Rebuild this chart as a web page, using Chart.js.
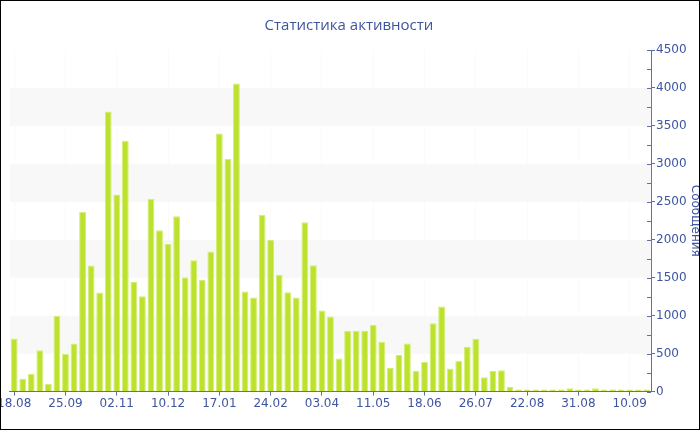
<!DOCTYPE html>
<html>
<head>
<meta charset="utf-8">
<script src="https://cdn.jsdelivr.net/npm/chart.js@4/dist/chart.umd.min.js"></script>
<style>
  html, body { margin: 0; padding: 0; background: #fff; }
  .box { position: relative; width: 700px; height: 430px; border: 1px solid #000; box-sizing: border-box; overflow: hidden; }
  .box canvas { position: absolute; left: -5px; top: -1px; }
</style>
</head>
<body>
<div class="box">
  <canvas id="myChart" width="706" height="430"></canvas>
</div>
<script>
// data
const tickLabels = ['18.08', '25.09', '02.11', '10.12', '17.01', '24.02', '03.04',
  '11.05', '18.06', '26.07', '22.08', '31.08', '10.09'];

const messages = [
  700, 170, 235, 545, 100, 1000, 500, 635, 2370, 1660,
  1305, 3690, 2595, 3305, 1445, 1255, 2540, 2125, 1945, 2310,
  1505, 1730, 1470, 1845, 3400, 3065, 4060, 1320, 1240, 2330,
  2000, 1535, 1310, 1240, 2230, 1665, 1070, 990, 435, 800,
  800, 800, 878, 657, 310, 482, 632, 275, 390, 902,
  1120, 305, 405, 590, 695, 190, 273, 282, 62, 26,
  26, 22, 13, 13, 13, 44, 13, 13, 44, 13,
  22, 13, 22, 13, 18
];

const bandStarts = [500, 1500, 2500, 3500];

const labelEvery = 6;
const categories = messages.map((v, i) => i % labelEvery === 0 ? tickLabels[i / labelEvery] : '');

const axisColor = '#5b6fa9';
const textColor = '#3e55a0';

// bands + inner ticks
const bands = {
  id: 'bands',
  beforeDatasetsDraw(chart) {
    const { ctx, chartArea, scales } = chart;
    ctx.save();
    ctx.fillStyle = '#f8f8f8';
    bandStarts.forEach(start => {
      const top = scales.y.getPixelForValue(start + 500);
      const bottom = scales.y.getPixelForValue(start);
      ctx.fillRect(chartArea.left, top, chartArea.right - chartArea.left, bottom - top);
    });
    ctx.restore();
  },
  afterDraw(chart) {
    const { ctx, scales } = chart;
    const x = scales.y.left;
    ctx.save();
    ctx.strokeStyle = axisColor;
    ctx.lineWidth = 1;
    scales.y.ticks.forEach(t => {
      const y = Math.round(scales.y.getPixelForValue(t.value)) + 0.5;
      ctx.beginPath();
      ctx.moveTo(x - 4, y);
      ctx.lineTo(x, y);
      ctx.stroke();
    });
    ctx.restore();
  }
};

var ctx = document.getElementById('myChart').getContext('2d');
var myChart = new Chart(ctx, {
  type: 'bar',
  data: {
    labels: categories,
    datasets: [{
      label: 'Сообщения',
      data: messages,
      backgroundColor: '#bde22e',
      borderColor: '#d3ee76',
      borderWidth: 1,
      borderSkipped: 'start',
      minBarLength: 2,
      barPercentage: 0.8,
      categoryPercentage: 1,
    }]
  },
  options: {
    responsive: false,
    animation: false,
    devicePixelRatio: 1,
    layout: { padding: { top: 0, right: 0, bottom: 18, left: 0 } },
    plugins: {
      legend: { display: false },
      tooltip: { enabled: false },
      title: {
        display: true,
        text: 'Статистика активности',
        color: textColor,
        font: { family: 'Open Sans', size: 15, weight: 'normal' },
        padding: { top: 17, bottom: 15 },
      },
    },
    scales: {
      x: {
        grid: {
          offset: false,
          color: c => c.index % labelEvery === 0 ? 'rgba(0,0,0,0.018)' : 'transparent',
          tickColor: c => c.index % labelEvery === 0 ? axisColor : 'transparent',
          tickLength: 4,
        },
        border: { color: axisColor, width: 1 },
        ticks: {
          autoSkip: false,
          maxRotation: 0,
          padding: 1,
          color: textColor,
          font: { family: 'DejaVu Sans', size: 12 },
        },
      },
      y: {
        position: 'right',
        min: 0,
        max: 4500,
        grid: {
          drawOnChartArea: false,
          tickColor: c => c.tick && c.tick.value % 500 === 0 ? axisColor : 'transparent',
          tickLength: 4,
        },
        border: { color: axisColor, width: 1 },
        ticks: {
          stepSize: 250,
          autoSkip: false,
          padding: 1,
          color: textColor,
          font: { family: 'DejaVu Sans', size: 12 },
          callback: v => v % 500 === 0 ? v : '',
        },
        title: {
          display: true,
          text: 'Сообщения',
          color: textColor,
          font: { family: 'DejaVu Sans', size: 12 },
          padding: { top: 0, bottom: 0 },
        },
      },
    }
  },
  plugins: [bands]
});
</script>
</body>
</html>
